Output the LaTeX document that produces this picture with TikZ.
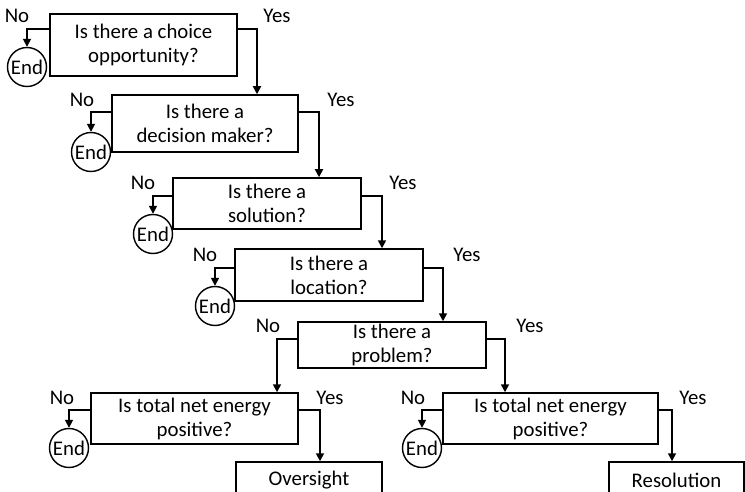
\documentclass[tikz,border=0pt]{standalone}
\usepackage{fontspec}
\setmainfont{Carlito}
\usetikzlibrary{arrows.meta}
\begin{document}
\begin{tikzpicture}[x=1pt,y=-1pt,
  txt/.style={font=\fontsize{20.8}{24}\selectfont},
  qbox/.style={draw,line width=1.5pt,txt,align=center,inner sep=0pt},
  endc/.style={draw,circle,line width=1.4pt,txt,minimum size=39pt,inner sep=0pt},
  arr/.style={line width=1.7pt,-{Triangle[length=8pt,width=8pt]}},
  lbl/.style={txt,inner sep=0pt}]
\useasboundingbox (0,0) rectangle (745,492);
% question boxes
\node[qbox,minimum width=187pt,minimum height=62pt] (b1) at (143.5,45) {Is there a choice\\opportunity?};
\node[qbox,minimum width=186pt,minimum height=57pt] (b2) at (205,123.5) {Is there a\\decision maker?};
\node[qbox,minimum width=188pt,minimum height=51pt] (b3) at (267,203.5) {Is there a\\solution?};
\node[qbox,minimum width=188pt,minimum height=52pt] (b4) at (329,275) {Is there a\\location?};
\node[qbox,minimum width=188pt,minimum height=46pt] (b5) at (392,345) {Is there a\\problem?};
\node[qbox,minimum width=207pt,minimum height=51pt] (b6) at (194.5,418.5) {Is total net energy\\positive?};
\node[qbox,minimum width=215pt,minimum height=51pt] (b7) at (550.5,418.5) {Is total net energy\\positive?};
\node[qbox,minimum width=146pt,minimum height=36pt] (ov) at (309,480) {Oversight};
\node[qbox,minimum width=135pt,minimum height=36pt] (rs) at (676.5,480) {Resolution};
% end circles
\node[endc] (e1) at (27,67) {End};
\node[endc] (e2) at (91,152) {End};
\node[endc] (e3) at (153,234) {End};
\node[endc] (e4) at (215,306) {End};
\node[endc] (e6) at (69,448) {End};
\node[endc] (e7) at (422,448) {End};
% No connectors
\draw[arr] (b1.west |- 0,29) -| (e1.north);
\draw[arr] (b2.west |- 0,112) -| (e2.north);
\draw[arr] (b3.west |- 0,196) -| (e3.north);
\draw[arr] (b4.west |- 0,268) -| (e4.north);
\draw[arr] (b6.west |- 0,410) -| (e6.north);
\draw[arr] (b7.west |- 0,410) -| (e7.north);
% Yes connectors
\coordinate (y1) at (257,0);
\coordinate (y2) at (319,0);
\coordinate (y3) at (382,0);
\coordinate (y4) at (443,0);
\draw[arr] (b1.east |- 0,29) -| (y1 |- b2.north);
\draw[arr] (b2.east |- 0,112) -| (y2 |- b3.north);
\draw[arr] (b3.east |- 0,196) -| (y3 |- b4.north);
\draw[arr] (b4.east |- 0,268) -| (y4 |- b5.north);
\draw[arr] (b5.west |- 0,339) -| (277,0 |- b6.north);
\draw[arr] (b5.east |- 0,339) -| (505,0 |- b7.north);
\draw[arr] (b6.east |- 0,410) -| (320,0 |- ov.north);
\draw[arr] (b7.east |- 0,410) -| (672,0 |- rs.north);
% labels
\node[lbl] (n1) at (17,16) {No};
\node[lbl] (s1) at (277,16) {Yes};
\node[lbl] (n2) at (82,100) {No};
\node[lbl] (s2) at (341,100) {Yes};
\node[lbl] (n3) at (143,183) {No};
\node[lbl] (s3) at (403,183) {Yes};
\node[lbl] (n4) at (205,255) {No};
\node[lbl] (s4) at (467,255) {Yes};
\node[lbl] (n5) at (268,326) {No};
\node[lbl] (s5) at (530,326) {Yes};
\node[lbl] (n6) at (62,398) {No};
\node[lbl] (s6) at (330,398) {Yes};
\node[lbl] (n7) at (413,398) {No};
\node[lbl] (s7) at (693,398) {Yes};
\end{tikzpicture}
\end{document}
